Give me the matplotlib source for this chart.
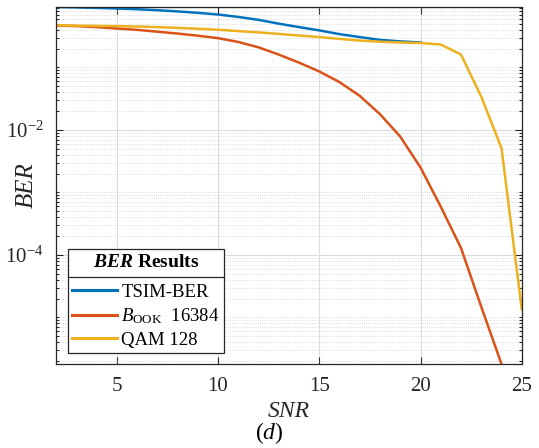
import numpy as np
import matplotlib
matplotlib.use("Agg")
import matplotlib.pyplot as plt
from matplotlib.ticker import FixedLocator, LogLocator, LogFormatterSciNotation, NullFormatter
from matplotlib.lines import Line2D

plt.rcParams['font.family'] = ['Liberation Serif', 'DejaVu Serif']
plt.rcParams['mathtext.fontset'] = 'custom'
plt.rcParams['mathtext.rm'] = 'Liberation Serif'
plt.rcParams['mathtext.it'] = 'Liberation Serif:italic'
plt.rcParams['mathtext.bf'] = 'Liberation Serif:bold'
plt.rcParams['mathtext.bfit'] = 'Liberation Serif:italic:bold'

# data
snr_tsim = [2, 3, 4, 5, 6, 7, 8, 9, 10, 11, 12, 13, 14, 15, 16, 17, 18, 19, 20]
ber_tsim = [0.925, 0.91, 0.893, 0.875, 0.85, 0.82, 0.785, 0.745, 0.70, 0.64,
            0.575, 0.50, 0.44, 0.39, 0.34, 0.305, 0.275, 0.26, 0.25]

snr_ook = [2, 3, 4, 5, 6, 7, 8, 9, 10, 11, 12, 13, 14, 15, 16, 17, 18, 19, 20,
           21, 22, 23, 24]
ber_ook = [0.465, 0.457, 0.44, 0.418, 0.398, 0.372, 0.347, 0.321, 0.293, 0.255,
           0.209, 0.160, 0.119, 0.086, 0.058, 0.035, 0.0178, 0.0078, 0.0025,
           5.9e-4, 1.29e-4, 1.48e-5, 1.8e-6]

snr_qam = [2, 3, 4, 5, 6, 7, 8, 9, 10, 11, 12, 13, 14, 15, 16, 17, 18, 19, 20,
           21, 22, 23, 24, 25]
ber_qam = [0.47, 0.465, 0.46, 0.457, 0.45, 0.44, 0.428, 0.414, 0.40, 0.38,
           0.362, 0.343, 0.323, 0.305, 0.285, 0.268, 0.257, 0.25, 0.245,
           0.232, 0.16, 0.034, 0.0051, 1.35e-5]

labels = ['TSIM-BER', r'$B_{\mathrm{OOK}}$  16384', 'QAM 128']
colors = ['#0072BD', '#D95319', '#EDB120']

fig = plt.figure(figsize=(5.39, 4.48), dpi=100)
ax = fig.add_axes([0.104, 0.1875, 0.864, 0.797])

ax.semilogy(snr_tsim, ber_tsim, color=colors[0], lw=1.8, label=labels[0])
ax.semilogy(snr_ook, ber_ook, color=colors[1], lw=1.8, label=labels[1])
ax.semilogy(snr_qam, ber_qam, color=colors[2], lw=1.8, label=labels[2])

ax.set_xlim(2, 25)
ax.set_ylim(min(ber_ook), max(ber_tsim))
ax.set_xticks([5, 10, 15, 20, 25])
ax.yaxis.set_major_locator(FixedLocator([1e-6, 1e-4, 1e-2, 1e0]))
ax.yaxis.set_major_formatter(LogFormatterSciNotation())
ax.yaxis.set_minor_locator(LogLocator(base=10, subs=np.arange(1, 10), numticks=50))
ax.yaxis.set_minor_formatter(NullFormatter())

ax.grid(True, which='major', color='#dcdcdc', lw=0.8, ls='-')
ax.grid(True, which='minor', axis='y', color='#d2d2d2', lw=0.6, ls=(0, (1, 1.6)))
ax.set_axisbelow(True)

ax.tick_params(which='both', direction='in', top=True, right=True,
               labelsize=15, colors='#262626', width=0.8)
ax.tick_params(which='major', length=5, pad=9)
ax.tick_params(which='minor', length=2.5)
for s in ax.spines.values():
    s.set_color('#262626')
    s.set_linewidth(0.9)

ax.set_xlabel('SNR', fontsize=17, style='italic', labelpad=4, color='#262626')
ax.set_ylabel('BER', fontsize=18, style='italic', color='#262626')
ax.yaxis.set_label_coords(-0.040, 0.5)
fig.text(0.5, 0.005, r'($\mathit{d}$)', ha='center', va='bottom', fontsize=17)

leg = ax.legend(loc='lower left', bbox_to_anchor=(0.025, 0.03), fontsize=13.5,
                title=r'$\mathbfit{BER}$ Results', title_fontproperties={'size': 14, 'weight': 'bold'},
                fancybox=False, edgecolor='#262626', framealpha=1, handlelength=2.4,
                handletextpad=0.2, borderpad=0.25, labelspacing=0.3, borderaxespad=0)
leg.get_frame().set_linewidth(0.9)
leg._legend_box.sep = 9
for h in leg.get_lines():
    h.set_linewidth(2.2)

fig.canvas.draw()
fb = leg.get_frame().get_window_extent()
tb = leg.get_title().get_window_extent()
eb = leg.get_texts()[0].get_window_extent()
ysep = (tb.y0 + eb.y1) / 2
inv = fig.transFigure.inverted()
(x0, y0), (x1, _) = inv.transform([(fb.x0, ysep), (fb.x1, ysep)])
fig.add_artist(Line2D([x0, x1], [y0, y0], transform=fig.transFigure, color='#262626', lw=0.9))

fig.savefig('out.png', dpi=100)
